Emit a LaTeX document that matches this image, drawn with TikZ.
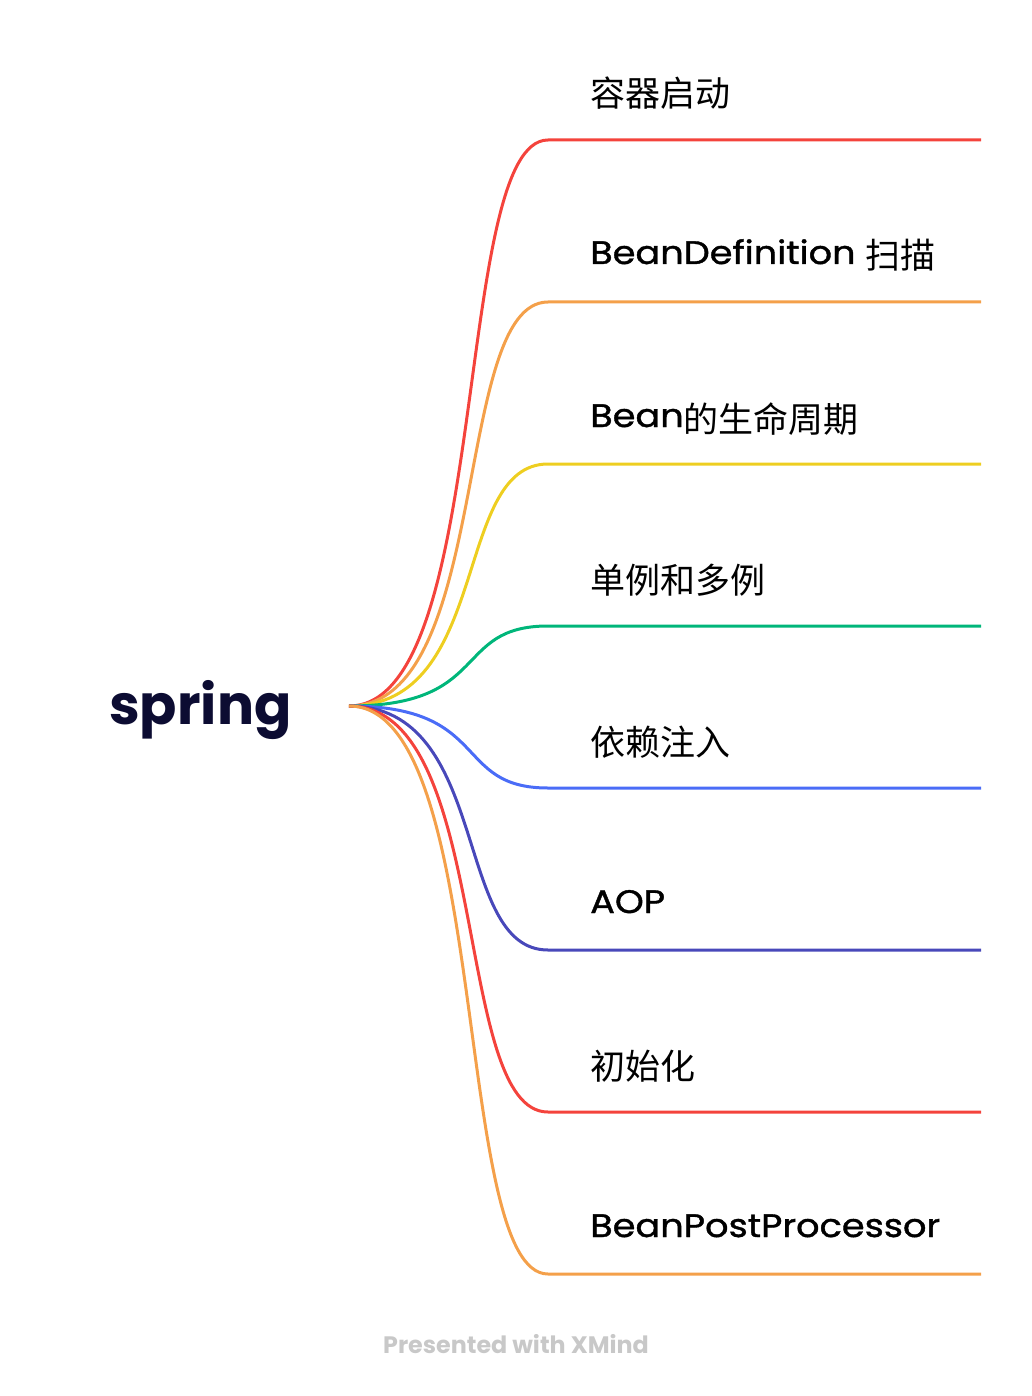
\documentclass[tikz,border=0pt]{standalone}
\usepackage{fontspec}
\setmainfont{Poppins}
\newfontfamily\labfont{Poppins}[FakeStretch=1.13, FakeBold=1.2]
\newfontfamily\cjk{Noto Sans CJK SC}
\definecolor{cRed}{RGB}{244,67,60}
\definecolor{cOrange}{RGB}{244,160,74}
\definecolor{cYellow}{RGB}{238,206,32}
\definecolor{cGreen}{RGB}{0,182,122}
\definecolor{cBlue}{RGB}{74,108,247}
\definecolor{cIndigo}{RGB}{72,72,186}
\definecolor{cRoot}{RGB}{12,12,50}
\definecolor{cFoot}{RGB}{200,200,200}
\newcommand\zh[1]{\raisebox{-5pt}{\cjk\fontsize{35}{40}\selectfont #1}}
\tikzset{
  br/.style={line width=3pt},
  lab/.style={anchor=base west, inner sep=0pt, font=\labfont\fontsize{32.5}{36}\selectfont, text=black},
}
\begin{document}
\begin{tikzpicture}[x=1pt,y=-1pt]
\useasboundingbox (0,0) rectangle (1032,1396);
\node[anchor=base west, inner sep=0pt, text=cRoot, font=\bfseries\fontsize{55}{60}\selectfont] (root) at (109,724) {spring};
\coordinate (o) at (349,706);
\foreach \i/\y/\c in {1/140/cRed,2/302/cOrange,3/464/cYellow,4/626/cGreen,5/788/cBlue,6/950/cIndigo,7/1112/cRed,8/1274/cOrange}{
  \coordinate (e\i) at (548,\y);
  \coordinate (f\i) at (981,\y);
  \draw[br, \c] (o) .. controls +(143,0) and +(-96,0) .. (e\i) -- (f\i);
}
\node[lab] (l1) at (590,102) {\zh{容器启动}};
\node[lab] (l2) at (590,264) {BeanDefinition \zh{扫描}};
\node[lab] (l3) at (590,427) {Bean\zh{的生命周期}};
\node[lab] (l4) at (590,588) {\zh{单例和多例}};
\node[lab] (l5) at (590,750) {\zh{依赖注入}};
\node[lab] (l6) at (590,913) {AOP};
\node[lab] (l7) at (590,1074) {\zh{初始化}};
\node[lab] (l8) at (590,1237) {BeanPostProcessor};
\node[anchor=base, inner sep=0pt, text=cFoot, font=\bfseries\fontsize{23.8}{28}\selectfont] (foot) at (516,1353) {Presented with XMind};
\end{tikzpicture}
\end{document}
